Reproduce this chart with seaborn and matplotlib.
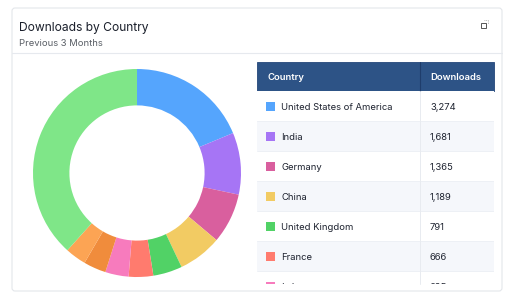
import matplotlib
matplotlib.use("Agg")
import matplotlib.pyplot as plt
from matplotlib.patches import Rectangle, FancyBboxPatch
import seaborn as sns

countries = ["United States of America", "India", "Germany", "China",
             "United Kingdom", "France", "Italy", "Country 8", "Country 9", "Other"]
downloads = [3274, 1681, 1365, 1189, 791, 666, 635, 610, 570, 6700]
colors = ["#55a5fd", "#a675f5", "#d95f9e", "#f2cb63", "#51d266",
          "#ff7b6e", "#f77bbd", "#f08c3c", "#fca454", "#7fe688"]
table_rows = 7  # rows rendered in the (scrolling) table

sns.set_theme(style="white")
plt.rcParams["font.family"] = ["Inter", "DejaVu Sans"]

W, H = 512, 300
fig = plt.figure(figsize=(W / 100, H / 100), dpi=100)
fig.patch.set_facecolor("white")

# background axes in pixel coords
bg = fig.add_axes([0, 0, 1, 1])
bg.set_xlim(0, W)
bg.set_ylim(H, 0)
bg.axis("off")

dy = 1.5  # text baseline nudge

# card
card = FancyBboxPatch((12, 8), 490, 283, boxstyle="round,pad=0,rounding_size=3",
                      fc="white", ec="#e3e6ea", lw=0.8)
bg.add_patch(card)
bg.plot([12, 502], [53, 53], color="#e6e9ee", lw=0.8)
bg.text(19, 26 + dy, "Downloads by Country", fontsize=8.7, color="#1a1f2b", va="center")
bg.text(19, 42 + dy, "Previous 3 Months", fontsize=6.8, color="#5a5f66", va="center")

# expand icon
bg.add_patch(Rectangle((481, 23), 5, 5, fc="none", ec="#555", lw=0.7))
bg.plot([484, 488, 488], [20, 20, 24], color="#aaa", lw=0.6, ls=(0, (1, 1)))

# table
tx0, tx1, tdiv = 257, 494, 420
hy0, hy1 = 62, 91
row_h = 30
clip_y = 284
bg.add_patch(Rectangle((tx0, hy0), tx1 - tx0, hy1 - hy0, fc="#2d5386", ec="#24467a", lw=0.6))
bg.plot([tdiv, tdiv], [hy0, hy1], color="#1f3d6b", lw=0.8)
bg.text(268, (hy0 + hy1) / 2 + dy, "Country", fontsize=6.8, color="white",
        va="center", fontweight="semibold")
bg.text(430, (hy0 + hy1) / 2 + dy, "Downloads", fontsize=6.8, color="white",
        va="center", fontweight="semibold")

clip = Rectangle((tx0, hy1), tx1 - tx0, clip_y - hy1, transform=bg.transData)
for i in range(table_rows):
    y0 = hy1 + i * row_h
    yc = y0 + row_h / 2
    fc = "#f5f7fb" if i % 2 == 1 else "white"
    arts = [
        bg.add_patch(Rectangle((tx0, y0), tx1 - tx0, row_h, fc=fc, ec="none")),
        bg.plot([tx0, tx1], [y0 + row_h, y0 + row_h], color="#edf0f5", lw=0.7)[0],
        bg.add_patch(Rectangle((266, yc - 4.5), 9, 9, fc=colors[i], ec="none")),
        bg.text(281, yc + dy, countries[i], fontsize=6.8, color="#1e2330", va="center"),
        bg.text(430, yc + dy, f"{downloads[i]:,}", fontsize=6.8, color="#1e2330", va="center"),
    ]
    for a in arts:
        a.set_clip_on(True)
        a.set_clip_path(clip)
bg.plot([tdiv, tdiv], [hy1, clip_y], color="#e8ebf0", lw=0.7)

# donut
cx, cy, rad = 137, 173, 104
ax = fig.add_axes([(cx - rad) / W, (H - cy - rad) / H, 2 * rad / W, 2 * rad / H])
ax.pie(downloads, colors=colors, startangle=90, counterclock=False,
       wedgeprops=dict(width=0.35, edgecolor="none"))
ax.set_xlim(-1, 1)
ax.set_ylim(-1, 1)
ax.set_aspect("equal")
ax.axis("off")

fig.savefig("out.png", dpi=100, facecolor="white")
